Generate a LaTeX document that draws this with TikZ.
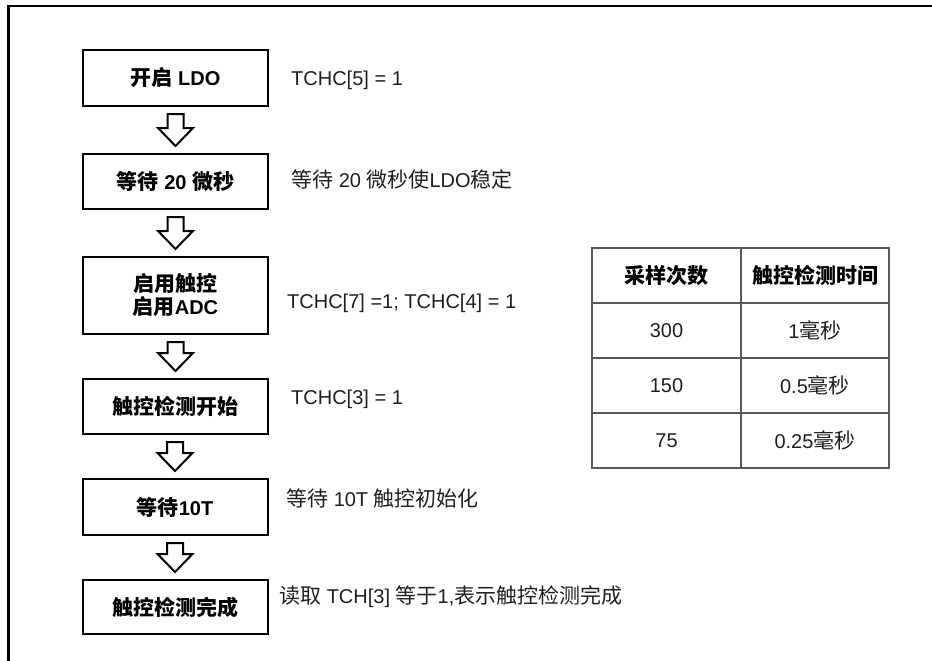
\documentclass[tikz,border=0pt]{standalone}
\usepackage{fontspec}
\setmainfont{Liberation Sans}
\newfontfamily\cjkfam[Scale=1.05]{Noto Sans CJK SC}
\newcommand\zh[1]{{\cjkfam #1}}
\usetikzlibrary{calc}
\tikzset{
  stepbox/.style={draw=black, line width=2pt, minimum width=185pt, inner sep=0pt,
    font=\fontsize{20}{23}\selectfont\bfseries, align=center},
  note/.style={anchor=west, inner sep=0pt, text=black!88, font=\fontsize{20}{23}\selectfont},
  blockarrow/.style={draw=black, line width=2pt, fill=white, line join=miter},
  tline/.style={draw=black!65, line width=1.3pt},
  thead/.style={inner sep=0pt, font=\fontsize{20}{23}\selectfont\bfseries},
  tcell/.style={inner sep=0pt, text=black!88, font=\fontsize{20}{23}\selectfont},
}
\newcommand\barrow[2]{%
  \path[blockarrow] let \p1=(#1.south), \p2=(#2.north) in
    (\x1-8pt,\y1-7pt) -- (\x1+8pt,\y1-7pt) -- (\x1+8pt,\y2+25pt) -- (\x1+17.5pt,\y2+25pt)
    -- (\x1,\y2+7pt) -- (\x1-17.5pt,\y2+25pt) -- (\x1-8pt,\y2+25pt) -- cycle;}
\begin{document}
\begin{tikzpicture}[x=1pt,y=-1pt]
\useasboundingbox (0,0) rectangle (932,661);
% frame (top and left edges)
\draw[line width=2.2pt] (932,6) -- (8.5,6) -- (8.5,661);
% steps
\node[stepbox, minimum height=56pt] (b1) at (175.5,78) {\zh{开启} LDO};
\node[stepbox, minimum height=55pt] (b2) at (175.5,181.5) {\zh{等待} 20 \zh{微秒}};
\node[stepbox, minimum height=77pt] (b3) at (175.5,295.5) {\zh{启用触控}\\[0pt]\zh{启用}ADC};
\node[stepbox, minimum height=55pt] (b4) at (175,406.5) {\zh{触控检测开始}};
\node[stepbox, minimum height=56pt] (b5) at (175,507) {\zh{等待}10T};
\node[stepbox, minimum height=54pt] (b6) at (175,607) {\zh{触控检测完成}};
\barrow{b1}{b2}
\barrow{b2}{b3}
\barrow{b3}{b4}
\barrow{b4}{b5}
\barrow{b5}{b6}
% notes
\node[note] (l1) at (291,80) {TCHC[5] = 1};
\node[note] (l2) at (291,179) {\zh{等待} 20 \zh{微秒使}LDO\zh{稳定}};
\node[note] (l3) at (287,303) {TCHC[7] =1; TCHC[4] = 1};
\node[note] (l4) at (291,399) {TCHC[3] = 1};
\node[note] (l5) at (286,498) {\zh{等待} 10T \zh{触控初始化}};
\node[note] (l6) at (279,597) {\zh{读取} TCH[3] \zh{等于}1,\zh{表示触控检测完成}};
% table
\draw[tline] (592,248) rectangle (889,468);
\draw[tline] (592,303) -- (889,303);
\draw[tline] (592,358) -- (889,358);
\draw[tline] (592,413) -- (889,413);
\draw[tline] (741,248) -- (741,468);
\node[thead] (h1) at (666.5,275.5) {\zh{采样次数}};
\node[thead] (h2) at (815,275.5) {\zh{触控检测时间}};
\node[tcell] (r1a) at (666.5,330.5) {300};
\node[tcell] (r1b) at (815,330.5) {1\zh{毫秒}};
\node[tcell] (r2a) at (666.5,385.5) {150};
\node[tcell] (r2b) at (815,385.5) {0.5\zh{毫秒}};
\node[tcell] (r3a) at (666.5,440.5) {75};
\node[tcell] (r3b) at (815,440.5) {0.25\zh{毫秒}};
\end{tikzpicture}
\end{document}
